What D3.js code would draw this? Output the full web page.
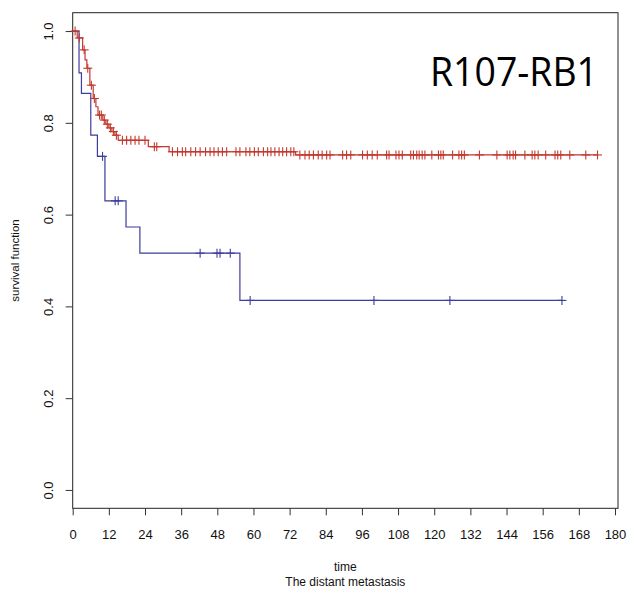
<!DOCTYPE html>
<html>
<head>
<meta charset="utf-8">
<script src="https://cdn.jsdelivr.net/npm/d3@7"></script>
<style>
  html, body { margin: 0; padding: 0; background: #fff; }
  svg { display: block; }
</style>
</head>
<body>
<div id="chart"></div>
<script>
// ---- data ----
const xTicks = [0, 12, 24, 36, 48, 60, 72, 84, 96, 108, 120, 132, 144, 156, 168, 180];
const yTicks = [0.0, 0.2, 0.4, 0.6, 0.8, 1.0];

// red group: step times and survival after each step
const redTimes = [0, 1.5, 3.3, 4.1, 4.7, 5.7, 6.8, 7.7, 8.4, 10, 11, 12, 13, 14, 15.1, 25.1, 32, 74];
const redSurv  = [1, 0.985, 0.959, 0.937, 0.919, 0.882, 0.853, 0.835, 0.817, 0.806, 0.797, 0.789, 0.781, 0.773, 0.762, 0.748, 0.737, 0.73];
const redEnd = 174.2;
const redCensor = [0.8, 2.2, 3.8, 5.0, 6.2, 7.2, 8.9, 9.5, 10.5, 11.5, 12.5, 13.5, 14.5,
  16.5, 17.9, 19.3, 20.7, 22.0, 24.0, 27.1, 27.9, 33.1, 34.8, 36.4, 37.5, 39.2, 40.8, 42.3,
  44.1, 45.6, 46.9, 48.3, 49.7, 51.1, 54.2, 55.5, 57.5, 58.8, 60.3, 61.6, 63.3, 64.7, 65.8,
  67.1, 68.5, 69.7, 71.0, 72.4, 73.4, 75.4, 77.1, 78.5, 79.9, 81.5, 82.8, 84.3, 85.4, 89.6,
  90.9, 92.3, 96.2, 97.8, 99.4, 101.1, 104.2, 105.0, 107.3, 108.3, 109.4, 112.2, 113.1,
  114.2, 115.0, 116.0, 116.9, 119.2, 121.4, 122.2, 123.0, 126.1, 128.2, 129.1, 130.0, 135.0,
  140.8, 144.2, 145.1, 146.2, 147.0, 150.1, 152.5, 153.4, 154.5, 157.0, 160.1, 161.0, 162.0,
  165.0, 170.3, 174.2];

// blue group
const blueTimes = [0, 2.1, 2.9, 6.0, 8.2, 10.7, 17.7, 22.3, 55.5];
const blueSurv  = [1, 0.909, 0.864, 0.773, 0.727, 0.630, 0.573, 0.516, 0.413];
const blueEnd = 162.4;
const blueCensor = [9.9, 14.1, 15.1, 42.3, 47.9, 48.9, 52.3, 58.9, 100.0, 125.2, 162.4];

const titleText = "R107-RB1";
const xLabel = "time";
const subLabel = "The distant metastasis";
const yLabel = "survival function";

// ---- drawing ----
const W = 635, H = 594;
const svg = d3.select("#chart").append("svg").attr("width", W).attr("height", H);

const x = d3.scaleLinear().domain([0, 181]).range([72.7, 618]);
const y = d3.scaleLinear().domain([-0.04, 1.04]).range([508.3, 12.7]);

const fontFam = "'Liberation Sans', Arial, sans-serif";

// box
svg.append("rect")
  .attr("x", x(0)).attr("y", y(1.04))
  .attr("width", x(181) - x(0)).attr("height", y(-0.04) - y(1.04))
  .attr("fill", "none").attr("stroke", "#222").attr("stroke-width", 1);

// x axis
const xAxis = svg.append("g")
  .attr("transform", `translate(0,${y(-0.04)})`)
  .call(d3.axisBottom(x).tickValues(xTicks).tickFormat(d3.format("d")).tickSize(7).tickSizeOuter(0).tickPadding(14));
xAxis.select(".domain").remove();
xAxis.selectAll("line").attr("stroke", "#333");
xAxis.selectAll("text").attr("font-family", fontFam).attr("font-size", 13).attr("fill", "#111");

// y axis
const yAxis = svg.append("g")
  .attr("transform", `translate(${x(0)},0)`)
  .call(d3.axisLeft(y).tickValues(yTicks).tickFormat(d3.format(".1f")).tickSize(7).tickSizeOuter(0));
yAxis.select(".domain").remove();
yAxis.selectAll("line").attr("stroke", "#333");
yAxis.selectAll("text")
  .attr("font-family", fontFam).attr("font-size", 13).attr("fill", "#111")
  .attr("x", null).attr("dy", null)
  .attr("text-anchor", "middle")
  .attr("transform", "translate(-20,0) rotate(-90)")
  .attr("y", 0);

// axis labels
svg.append("text").attr("x", (x(0) + x(181)) / 2).attr("y", 571)
  .attr("text-anchor", "middle").attr("font-family", fontFam).attr("font-size", 12).attr("fill", "#111")
  .text(xLabel);
svg.append("text").attr("x", (x(0) + x(181)) / 2).attr("y", 586)
  .attr("text-anchor", "middle").attr("font-family", fontFam).attr("font-size", 12).attr("fill", "#111")
  .text(subLabel);
svg.append("text")
  .attr("transform", `translate(19,${(y(1.04) + y(-0.04)) / 2}) rotate(-90)`)
  .attr("text-anchor", "middle").attr("font-family", fontFam).attr("font-size", 11.5).attr("fill", "#111")
  .text(yLabel);

// step curves
function stepPoints(times, surv, end) {
  const pts = times.map((t, i) => [t, surv[i]]);
  pts.push([end, surv[surv.length - 1]]);
  return pts;
}
function survAt(times, surv, t) {
  let s = surv[0];
  for (let i = 0; i < times.length; i++) if (times[i] <= t) s = surv[i];
  return s;
}
const line = d3.line().x(d => x(d[0])).y(d => y(d[1])).curve(d3.curveStepAfter);

function drawGroup(times, surv, end, censor, color) {
  svg.append("path")
    .datum(stepPoints(times, surv, end))
    .attr("d", line)
    .attr("fill", "none").attr("stroke", color).attr("stroke-width", 1.2);
  const g = svg.append("g").attr("stroke", color).attr("stroke-width", 1.1);
  const s = 4.5;
  censor.forEach(t => {
    const cx = x(t), cy = y(survAt(times, surv, t));
    g.append("line").attr("x1", cx).attr("x2", cx).attr("y1", cy - s).attr("y2", cy + s);
    g.append("line").attr("x1", cx - s).attr("x2", cx + s).attr("y1", cy).attr("y2", cy);
  });
}

drawGroup(blueTimes, blueSurv, blueEnd, blueCensor, "#3d3d9c");
drawGroup(redTimes, redSurv, redEnd, redCensor, "#c2392f");

// title
svg.append("text")
  .attr("x", 430).attr("y", 86)
  .attr("font-family", "'Open Sans', 'Noto Sans', sans-serif")
  .attr("font-size", 40).attr("fill", "#000")
  .attr("textLength", 168).attr("lengthAdjust", "spacingAndGlyphs")
  .text(titleText);
</script>
</body>
</html>
